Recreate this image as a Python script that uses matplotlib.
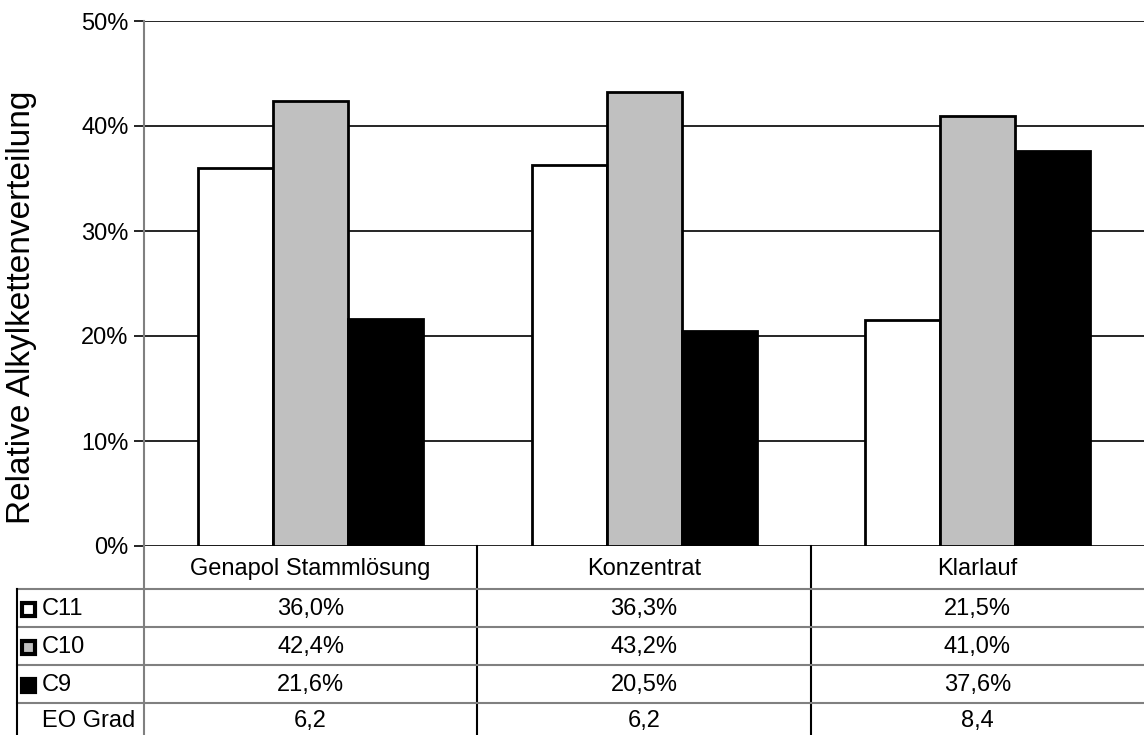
"""Relative Alkylkettenverteilung mit Datentabelle (Excel-Stil)."""
import matplotlib
matplotlib.use("Agg")
import matplotlib.pyplot as plt
import matplotlib.transforms as mtransforms
from matplotlib.lines import Line2D
from matplotlib.patches import Rectangle
import numpy as np

plt.rcParams["font.family"] = ["Liberation Sans", "DejaVu Sans"]

# Daten
CATEGORIES = ["Genapol Stammlösung", "Konzentrat", "Klarlauf"]
SERIES = ["C11", "C10", "C9"]
C11 = [36.0, 36.3, 21.5]
C10 = [42.4, 43.2, 41.0]
C9 = [21.6, 20.5, 37.6]
EO_GRAD = [6.2, 6.2, 8.4]
COLORS = ["white", "#c0c0c0", "black"]

# Größe in Pixeln
W, H = 1144, 735
AX_LEFT, AX_RIGHT, AX_TOP, AX_BOTTOM = 144, 1144, 21, 546
BAR_W = 0.225
FS = 17


def fy(py):
    """Pixel-y (von oben) in Figurkoordinaten."""
    return 1 - py / H


def fx(px):
    return px / W


fig = plt.figure(figsize=(W / 100, H / 100), dpi=100)
ax = fig.add_axes([fx(AX_LEFT), fy(AX_BOTTOM), fx(AX_RIGHT - AX_LEFT),
                   (AX_BOTTOM - AX_TOP) / H])

x = np.arange(len(CATEGORIES))
values = [C11, C10, C9]
for i, (vals, color) in enumerate(zip(values, COLORS)):
    ax.bar(x + (i - 1) * BAR_W, vals, BAR_W, color=color, edgecolor="black",
           linewidth=2.0, zorder=3)

ax.set_xlim(-0.5, len(CATEGORIES) - 0.5)
ax.set_ylim(0, 50)
ax.set_yticks(np.arange(0, 51, 10))
ax.set_yticklabels([f"{v}%" for v in range(0, 51, 10)], fontsize=FS)
ax.yaxis.grid(True, color="black", linewidth=1.2, zorder=0)
ax.tick_params(axis="y", length=7, width=1.2, color="black", pad=4)
ax.set_xticks([])
for side in ["top", "right", "bottom"]:
    ax.spines[side].set_visible(False)
ax.spines["left"].set_color("#808080")
ax.spines["left"].set_linewidth(1.5)
fig.text(fx(22), fy(307), "Relative Alkylkettenverteilung", rotation=90,
         ha="center", va="center", fontsize=24)

# Datentabelle
TABLE_LEFT = 17
ROW_LINES = [589, 627, 665, 703]
ROW_CENTERS = [609, 647, 685, 721]
HEADER_Y = 569
grid_gray = "#808080"

for py in ROW_LINES:
    fig.add_artist(Line2D([fx(TABLE_LEFT), 1], [fy(py), fy(py)],
                          color=grid_gray, linewidth=1.5))
fig.add_artist(Line2D([fx(TABLE_LEFT), fx(TABLE_LEFT)], [fy(ROW_LINES[0]), 0],
                      color="black", linewidth=1.5))
fig.add_artist(Line2D([fx(AX_LEFT), fx(AX_LEFT)], [fy(AX_BOTTOM), 0],
                      color=grid_gray, linewidth=1.5))

blend = mtransforms.blended_transform_factory(ax.transData, fig.transFigure)
for xb in x[1:] - 0.5:
    ax.add_line(Line2D([xb, xb], [fy(AX_BOTTOM), 0], transform=blend,
                       color="black", linewidth=1.5, clip_on=False))

for xi, cat in zip(x, CATEGORIES):
    ax.text(xi, fy(HEADER_Y), cat, transform=blend, ha="center", va="center",
            fontsize=FS, clip_on=False)

rows = [[f"{v:.1f}%".replace(".", ",") for v in vals] for vals in values]
rows.append([f"{v:.1f}".replace(".", ",") for v in EO_GRAD])
labels = SERIES + ["EO Grad"]

for r, (label, cells) in enumerate(zip(labels, rows)):
    yc = fy(ROW_CENTERS[r])
    fig.text(fx(42), yc, label, ha="left", va="center", fontsize=FS)
    if r < len(SERIES):
        fig.add_artist(Rectangle((fx(22), yc - 6.5 / H), 13 / W, 13 / H,
                                 facecolor=COLORS[r], edgecolor="black",
                                 linewidth=3))
    for xi, cell in zip(x, cells):
        ax.text(xi, yc, cell, transform=blend, ha="center", va="center",
                fontsize=FS, clip_on=False)

fig.savefig("out.png", dpi=100)
